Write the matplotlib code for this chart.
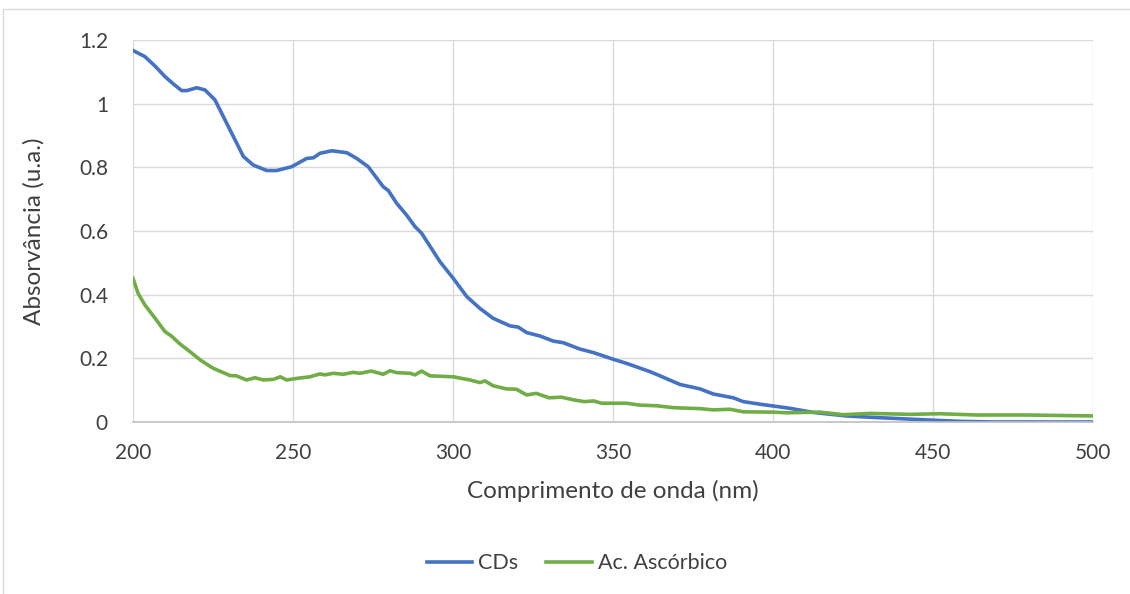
import matplotlib.pyplot as plt
from matplotlib.patches import Rectangle

# CDs spectrum
cds_x = [200, 203.7, 206.9, 210, 212.6, 215.2, 216.8, 219.9, 222.5, 225.6, 229.3, 231.9,
         234.5, 237.6, 241.8, 244.9, 249.6, 254.3, 256.4, 258.4, 262.1, 266.8, 269.9,
         273.5, 278.2, 279.8, 282.4, 285.5, 288.1, 290.2, 295.9, 300.1, 304.3, 308.4,
         312.5, 317.8, 320.4, 323, 327.2, 331.4, 334.5, 339.7, 343.9, 350.1, 354.3,
         361.6, 364.7, 370.9, 377.2, 381.3, 387.6, 390.7, 395.9, 405.3, 412.6, 423,
         430.3, 442.8, 458.4, 468.8, 500]
cds_y = [1.167, 1.148, 1.118, 1.085, 1.062, 1.041, 1.041, 1.050, 1.043, 1.012, 0.938, 0.886,
         0.834, 0.807, 0.790, 0.790, 0.802, 0.828, 0.830, 0.844, 0.852, 0.846, 0.828,
         0.802, 0.739, 0.727, 0.687, 0.650, 0.614, 0.593, 0.504, 0.451, 0.394, 0.357,
         0.326, 0.302, 0.298, 0.281, 0.270, 0.254, 0.249, 0.229, 0.218, 0.197, 0.184,
         0.158, 0.145, 0.118, 0.104, 0.088, 0.076, 0.064, 0.056, 0.043, 0.030, 0.019,
         0.015, 0.009, 0.002, 0.000, 0.000]

# Ascorbic acid spectrum
asc_x = [200, 201.6, 203.7, 206.9, 210, 212, 214.7, 217.8, 221, 225, 230.3, 232.3, 235.5,
         238.1, 240.7, 243.9, 246, 248, 251.2, 255.3, 258.4, 260, 262.5, 265.7, 268.8,
         270.9, 274.5, 278.2, 280.3, 282.4, 286.6, 288.1, 290.2, 292.8, 300.1, 305.3,
         308.4, 310, 312.5, 316.7, 319.8, 323, 326, 330, 333.8, 338, 341, 344, 346.4,
         354.2, 358.4, 363.6, 368.9, 377.2, 381.3, 386.6, 390.7, 400, 404.3, 414.7,
         422, 430.3, 442.8, 452.2, 463.6, 479.2, 500]
asc_y = [0.451, 0.404, 0.368, 0.326, 0.284, 0.270, 0.245, 0.221, 0.195, 0.169, 0.146, 0.145,
         0.132, 0.139, 0.132, 0.134, 0.142, 0.132, 0.137, 0.142, 0.151, 0.148, 0.153,
         0.150, 0.156, 0.153, 0.160, 0.150, 0.161, 0.155, 0.153, 0.148, 0.160, 0.145,
         0.142, 0.132, 0.124, 0.129, 0.114, 0.104, 0.103, 0.085, 0.090, 0.076, 0.078,
         0.069, 0.064, 0.066, 0.059, 0.059, 0.053, 0.051, 0.045, 0.042, 0.038, 0.040,
         0.032, 0.031, 0.029, 0.031, 0.023, 0.027, 0.024, 0.026, 0.022, 0.022, 0.019]

plt.rcParams['font.family'] = ['Lato', 'DejaVu Sans']

fig = plt.figure(figsize=(11.3, 5.94), dpi=100)
ax = fig.add_axes([133 / 1130, 1 - 422 / 594, 960 / 1130, 382 / 594])

# thin chart border like the office chart frame
fig.patches.append(Rectangle((3 / 1130, -0.1), 1.2, 1 - 9 / 594 + 0.1,
                             transform=fig.transFigure, fill=False,
                             edgecolor='#d9d9d9', linewidth=1))

ax.plot(cds_x, cds_y, color='#4472C4', linewidth=2.6, label='CDs')
ax.plot(asc_x, asc_y, color='#70AD47', linewidth=2.6, label='Ac. Ascórbico')

ax.set_xlim(200, 500)
ax.set_ylim(0, 1.2)
ax.set_xticks([200, 250, 300, 350, 400, 450, 500])
ax.set_yticks([0, 0.2, 0.4, 0.6, 0.8, 1.0, 1.2])
ax.set_yticklabels(['0', '0.2', '0.4', '0.6', '0.8', '1', '1.2'])
ax.grid(True, color='#d9d9d9', linewidth=1)
ax.set_axisbelow(True)
for s in ['top', 'right', 'left']:
    ax.spines[s].set_visible(False)
ax.spines['bottom'].set_color('#bfbfbf')
ax.spines['bottom'].set_linewidth(1.2)
ax.tick_params(length=0, labelsize=15, labelcolor='#404040')
ax.tick_params(axis='x', pad=15)
ax.tick_params(axis='y', pad=18)

ax.set_xlabel('Comprimento de onda (nm)', fontsize=17.5, color='#404040', labelpad=12)
ax.set_ylabel('Absorvância (u.a.)', fontsize=17.5, color='#404040', labelpad=25)

ax.legend(loc='center', bbox_to_anchor=(0.4625, -0.37), ncol=2, frameon=False,
          fontsize=15.5, handlelength=2.1, handletextpad=0.3, columnspacing=1.3,
          labelcolor='#404040')

fig.savefig('out.png', dpi=100)
